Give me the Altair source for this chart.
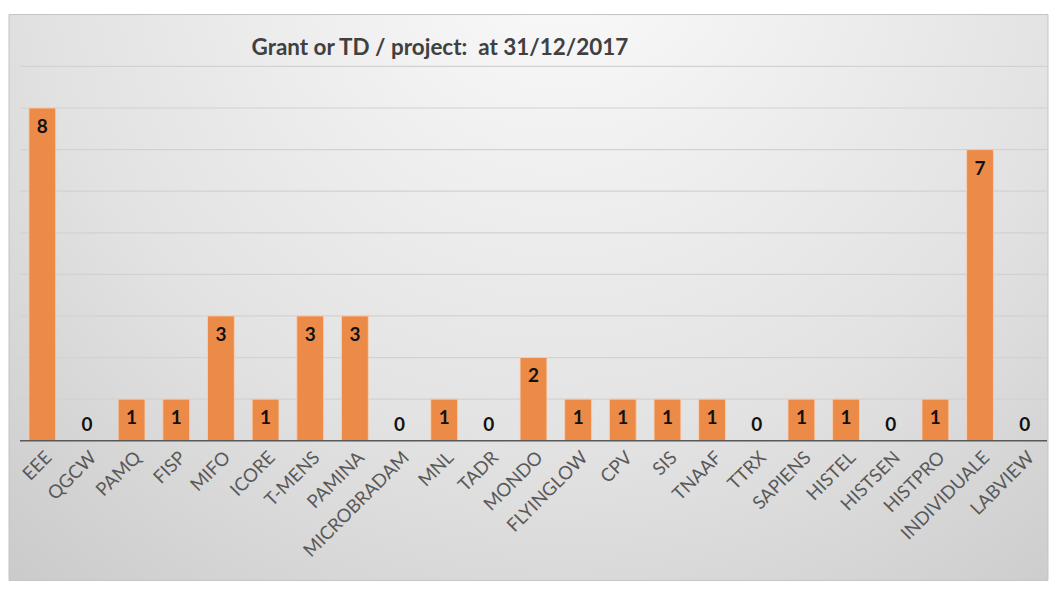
import altair as alt
import pandas as pd

categories = ["EEE", "QGCW", "PAMQ", "FISP", "MIFO", "ICORE", "T-MENS", "PAMINA",
              "MICROBRADAM", "MNL", "TADR", "MONDO", "FLYINGLOW", "CPV", "SIS",
              "TNAAF", "TTRX", "SAPIENS", "HISTEL", "HISTSEN", "HISTPRO",
              "INDIVIDUALE", "LABVIEW"]
values = [8, 0, 1, 1, 3, 1, 3, 3, 0, 1, 0, 2, 1, 1, 1, 1, 0, 1, 1, 0, 1, 7, 0]
grid_values = [1, 2, 3, 4, 5, 6, 7, 8, 9]
title_text = "Grant or TD / project:\u00a0 at 31/12/2017"

W, H = 1029, 375
FONT = "Lato"

df = pd.DataFrame({"cat": categories, "val": values})
grid_df = pd.DataFrame({"g": grid_values})
one_df = pd.DataFrame({"a": [0]})
title_df = pd.DataFrame({"t": [title_text]})

gradient = {
    "gradient": "radial",
    "x1": 0.53, "y1": 0.15, "r1": 0.0,
    "x2": 0.53, "y2": 0.15, "r2": 1.0,
    "stops": [
        {"offset": 0.0, "color": "#fbfbfb"},
        {"offset": 0.5, "color": "#e2e2e2"},
        {"offset": 1.0, "color": "#bdbdbd"},
    ],
}

y_scale = alt.Scale(domain=[0, 9], nice=False)
x_enc = alt.X(
    "cat:N", sort=categories,
    scale=alt.Scale(paddingInner=0.4, paddingOuter=0.2),
    axis=alt.Axis(title=None, labelAngle=-45, domain=False, ticks=False,
                  labelFont=FONT, labelFontSize=18.5, labelColor="#595959",
                  labelPadding=7, zindex=1),
)

bg = alt.Chart(one_df).mark_rect(fill=gradient, stroke="#c4c4c4", strokeWidth=1).encode(
    x=alt.value(-11), x2=alt.value(W + 1), y=alt.value(-52), y2=alt.value(H + 140)
)

title = alt.Chart(title_df).mark_text(
    align="left", baseline="alphabetic", font=FONT, fontSize=22.5,
    fontWeight="bold", color="#404040"
).encode(x=alt.value(232), y=alt.value(-11), text="t:N")

grid = alt.Chart(grid_df).mark_rule(color="#d2d2d2", strokeWidth=1.2).encode(
    y=alt.Y("g:Q", scale=y_scale, axis=None),
    x=alt.value(0), x2=alt.value(W),
)

bars = alt.Chart(df).mark_bar(color="#EC8A48", stroke="#f7d2b6", strokeWidth=0.8).encode(
    x=x_enc,
    y=alt.Y("val:Q", scale=y_scale, axis=None),
)

baseline = alt.Chart(one_df).mark_rule(color="#595959", strokeWidth=1.6).encode(
    y=alt.Y("a:Q", scale=y_scale, axis=None),
    x=alt.value(0), x2=alt.value(W),
)

labels_pos = alt.Chart(df).transform_filter("datum.val > 0").mark_text(
    dy=19, font=FONT, fontSize=19, fontWeight="bold", color="#111111"
).encode(x=x_enc, y=alt.Y("val:Q", scale=y_scale, axis=None), text="val:Q")

labels_zero = alt.Chart(df).transform_filter("datum.val == 0").mark_text(
    dy=-16, font=FONT, fontSize=19, fontWeight="bold", color="#111111"
).encode(x=x_enc, y=alt.Y("val:Q", scale=y_scale, axis=None), text="val:Q")

chart = alt.layer(bg, title, grid, bars, baseline, labels_pos, labels_zero).properties(
    width=W, height=H,
    padding={"left": 0, "top": 5, "right": 0, "bottom": 0},
).configure_view(stroke=None).configure(background="white")

chart.save("out.html", embed_options={"renderer": "svg", "actions": False})
